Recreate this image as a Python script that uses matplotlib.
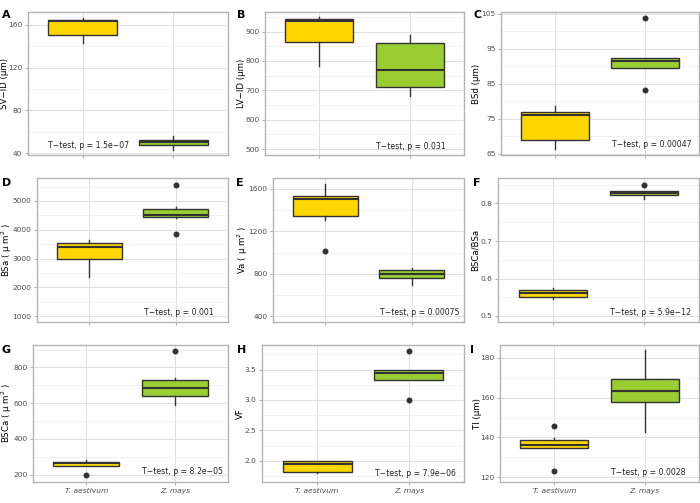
import matplotlib.pyplot as plt
from matplotlib.ticker import AutoMinorLocator

species = ['T. aestivum', 'Z. mays']
fills = ['#FFD700', '#9ACD32']

# box stats: [low whisker, q1, median, q3, high whisker]
sv_id = [[143, 150.7, 163.4, 164.7, 166.5], [43.1, 48.1, 50.5, 52.1, 56.1]]
sv_id_out = [[], []]
lv_id = [[784, 866, 936, 943, 950], [681, 713, 770, 861, 887]]
lv_id_out = [[], []]
bsd = [[66.3, 68.9, 76.1, 77.1, 78.8], [89.6, 89.6, 91.5, 92.5, 92.5]]
bsd_out = [[], [103.8, 83.3]]
bsa = [[2360, 2994, 3410, 3525, 3640], [4412, 4435, 4527, 4735, 4804]]
bsa_out = [[], [5565, 3859]]
va = [[1303, 1347, 1506, 1534, 1644], [694, 759, 794, 831, 850]]
va_out = [[1012], []]
bsca_bsa = [[0.5453, 0.5506, 0.5604, 0.5683, 0.5746], [0.8115, 0.8239, 0.8284, 0.8328, 0.8335]]
bsca_bsa_out = [[], [0.8506]]
bsca = [[249, 249, 264, 269, 284], [588, 640, 686, 729, 740]]
bsca_out = [[200], [892]]
vf = [[1.80, 1.823, 1.945, 1.994, 1.994], [3.33, 3.33, 3.45, 3.5, 3.5]]
vf_out = [[], [3.81, 3.0]]
tl = [[134.8, 134.8, 136.0, 138.7, 139.7], [142.8, 157.8, 163.4, 169.5, 183.9]]
tl_out = [[145.7, 123.1], []]

p_labels = ['1.5e\u221207', '0.031', '0.00047', '0.001', '0.00075',
            '5.9e\u221212', '8.2e\u221205', '7.9e\u221206', '0.0028']

panels = [
    ('A', 'SV\u2212ID (\u03bcm)', sv_id, sv_id_out, [40, 80, 120, 160], (38.4, 171.8), 0.62, 47.7),
    ('B', 'LV\u2212ID (\u03bcm)', lv_id, lv_id_out, [500, 600, 700, 800, 900], (479.6, 966.9), 1.63, 510),
    ('C', 'BSd (\u03bcm)', bsd, bsd_out, [65, 75, 85, 95, 105], (64.7, 105.5), 1.63, 67.8),
    ('D', 'BSa ( \u03bc m$^2$ )', bsa, bsa_out, [1000, 2000, 3000, 4000, 5000], (804, 5795), 1.63, 1127),
    ('E', 'Va ( \u03bc m$^2$ )', va, va_out, [400, 800, 1200, 1600], (347, 1700), 1.63, 434),
    ('F', 'BSCa/BSa', bsca_bsa, bsca_bsa_out, [0.5, 0.6, 0.7, 0.8], (0.484, 0.868), 1.63, 0.509),
    ('G', 'BSCa ( \u03bc m$^2$ )', bsca, bsca_out, [200, 400, 600, 800], (158.7, 925.6), 1.63, 219),
    ('H', 'VF', vf, vf_out, [2.0, 2.5, 3.0, 3.5], (1.651, 3.904), 1.63, 1.79),
    ('I', 'Tl (\u03bcm)', tl, tl_out, [120, 140, 160, 180], (117.6, 186.5), 1.63, 122.5),
]

# panel boxes in pixels: left, right, top, bottom
lefts = [[28, 265, 501], [37, 273, 498], [33, 262, 500]]
rights = [228, 464, 699]
tops = [12, 178, 345]
bottoms = [155, 322, 482]
letter_x = [[2, 237, 473], [2, 236, 473], [2, 237, 470]]
letter_y = [15, 183, 350]
ylab_x = [[5, 241, 477], [6.5, 243, 475], [6.5, 240, 478]]

W, H = 700, 503
fig = plt.figure(figsize=(7, 5.03), dpi=100)

for i, (letter, ylabel, stats, outs, yticks, ylim, lx, ly) in enumerate(panels):
    r, c = divmod(i, 3)
    l, rt, t, b = lefts[r][c], rights[c], tops[r], bottoms[r]
    ax = fig.add_axes([l / W, 1 - b / H, (rt - l) / W, (b - t) / H])
    bstats = []
    for s, o, name in zip(stats, outs, species):
        bstats.append({'whislo': s[0], 'q1': s[1], 'med': s[2], 'q3': s[3],
                       'whishi': s[4], 'fliers': o, 'label': name})
    bp = ax.bxp(bstats, positions=[1, 2], widths=0.75, patch_artist=True,
                showcaps=False, zorder=3,
                boxprops=dict(edgecolor='#333333', linewidth=1.0),
                medianprops=dict(color='#333333', linewidth=1.5),
                whiskerprops=dict(color='#333333', linewidth=1.0),
                flierprops=dict(marker='o', markerfacecolor='#333333',
                                markeredgecolor='#333333', markersize=3.3))
    for patch, f in zip(bp['boxes'], fills):
        patch.set_facecolor(f)
    ax.set_xlim(0.4, 2.6)
    ax.set_ylim(*ylim)
    ax.set_yticks(yticks)
    ax.yaxis.set_minor_locator(AutoMinorLocator(2))
    ax.grid(True, which='major', color='#dedede', linewidth=0.7, zorder=0)
    ax.grid(True, which='minor', axis='y', color='#ebebeb', linewidth=0.5, zorder=0)
    ax.set_axisbelow(True)
    for sp in ax.spines.values():
        sp.set_color('#b3b3b3')
        sp.set_linewidth(1.0)
    ax.tick_params(which='major', length=2.5, color='#b3b3b3', labelsize=5.4,
                   labelcolor='#4d4d4d', pad=1.5)
    ax.tick_params(which='minor', length=0)
    ax.set_xticks([1, 2])
    if r == 2:
        ax.set_xticklabels(species, fontstyle='italic')
    else:
        ax.set_xticklabels(['', ''])
    fig.text(ylab_x[r][c] / W, 1 - ((t + b) / 2) / H, ylabel, fontsize=6.2,
             rotation=90, ha='center', va='center')
    ax.text(lx, ly, 'T\u2212test, p = ' + p_labels[i], fontsize=5.6,
            ha='left', va='center', color='#222222', zorder=4)
    fig.text(letter_x[r][c] / W, 1 - letter_y[r] / H, letter, fontsize=8,
             fontweight='bold', ha='left', va='center')

fig.savefig('out.png', dpi=100)
